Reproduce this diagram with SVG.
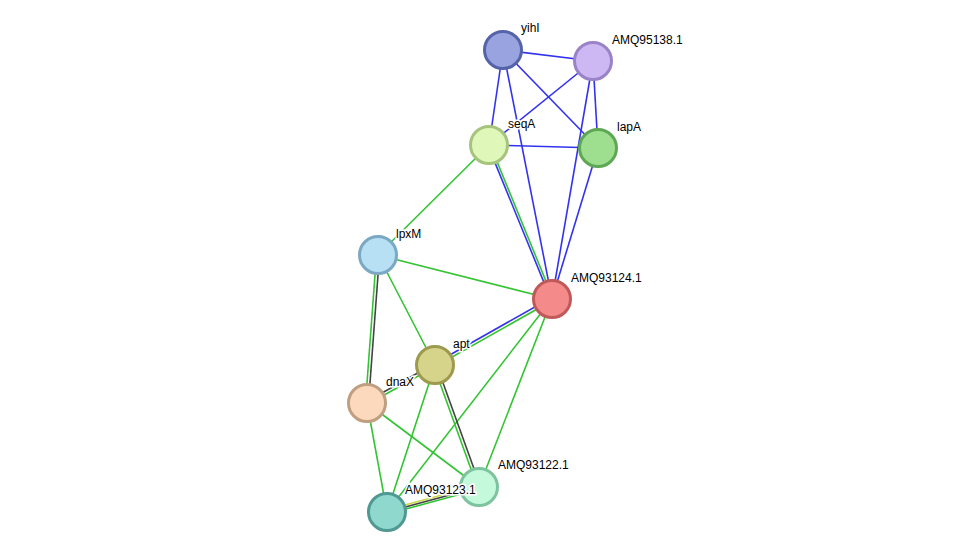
<svg xmlns="http://www.w3.org/2000/svg" width="976" height="557" viewBox="0 0 976 557">
<style>
.b{stroke:#3333ee;stroke-width:1.6;fill:none}
.g{stroke:#33c433;stroke-width:1.6;fill:none}
.k{stroke:#444;stroke-width:1.6;fill:none}
.y{stroke:#c8d84a;stroke-width:1.6;fill:none}
.n{stroke-width:3}
text{font-family:"Liberation Sans",Arial,sans-serif;font-size:12px;fill:#000;paint-order:stroke;stroke:#fff;stroke-width:3px}
</style>
<rect width="976" height="557" fill="#fff"/>
<g id="connectors">
<line class="b" x1="503" y1="50" x2="593" y2="61"/>
<line class="b" x1="503" y1="50" x2="598" y2="148"/>
<line class="b" x1="503" y1="50" x2="489" y2="145"/>
<line class="b" x1="503" y1="50" x2="552" y2="299"/>
<line class="b" x1="593" y1="61" x2="489" y2="145"/>
<line class="b" x1="593" y1="61" x2="598" y2="148"/>
<line class="b" x1="593" y1="61" x2="552" y2="299"/>
<line class="b" x1="489" y1="145" x2="598" y2="148"/>
<line class="b" x1="598" y1="148" x2="552" y2="299"/>
<line class="b" x1="488" y1="145.6" x2="551" y2="299.6"/>
<line class="g" x1="490" y1="144.4" x2="553" y2="298.4"/>
<line class="g" x1="489" y1="145" x2="378" y2="255"/>
<line class="g" x1="378" y1="255" x2="552" y2="299"/>
<line class="g" x1="378" y1="255" x2="435" y2="365"/>
<line class="g" x1="376.5" y1="255" x2="365.5" y2="403"/>
<line class="k" x1="379.5" y1="255" x2="368.5" y2="403"/>
<line class="b" x1="434.3" y1="363.7" x2="551.3" y2="297.7"/>
<line class="g" x1="435.7" y1="366.3" x2="552.7" y2="300.3"/>
<line class="k" x1="366.3" y1="401.7" x2="434.3" y2="363.7"/>
<line class="g" x1="367.7" y1="404.3" x2="435.7" y2="366.3"/>
<line class="g" x1="552" y1="299" x2="479" y2="487"/>
<line class="g" x1="552" y1="299" x2="387" y2="512"/>
<line class="g" x1="433.6" y1="365.5" x2="477.6" y2="487.5"/>
<line class="k" x1="436.4" y1="364.5" x2="480.4" y2="486.5"/>
<line class="g" x1="435" y1="365" x2="387" y2="512"/>
<line class="g" x1="367" y1="403" x2="479" y2="487"/>
<line class="g" x1="367" y1="403" x2="387" y2="512"/>
<line class="y" x1="386.5" y1="510" x2="478.5" y2="485"/>
<line class="k" x1="387" y1="512" x2="479" y2="487"/>
<line class="g" x1="387.5" y1="514" x2="479.5" y2="489"/>
</g>
<g id="yihI"><circle class="n" cx="503" cy="50" r="18.5" fill="#98a3e0" stroke="#5563a8"/><text x="521" y="32">yihI</text></g>
<g id="AMQ95138.1"><circle class="n" cx="593" cy="61" r="18.5" fill="#cdb8f4" stroke="#9a83c6"/><text x="612" y="44">AMQ95138.1</text></g>
<g id="lapA"><circle class="n" cx="598" cy="148" r="18.5" fill="#9ddf8f" stroke="#5ea754"/><text x="617" y="131">lapA</text></g>
<g id="seqA"><circle class="n" cx="489" cy="145" r="18.5" fill="#dff7b8" stroke="#a6c47e"/><text x="508" y="128">seqA</text></g>
<g id="lpxM"><circle class="n" cx="378" cy="255" r="18.5" fill="#b7e0f4" stroke="#7ba8c2"/><text x="396" y="238">lpxM</text></g>
<g id="AMQ93124.1"><circle class="n" cx="552" cy="299" r="18.5" fill="#f48a8a" stroke="#c05a5a"/><text x="571" y="282">AMQ93124.1</text></g>
<g id="apt"><circle class="n" cx="435" cy="365" r="18.5" fill="#d6d48a" stroke="#9d9a4e"/><text x="453" y="348">apt</text></g>
<g id="dnaX"><circle class="n" cx="367" cy="403" r="18.5" fill="#fcd9bd" stroke="#c09e80"/><text x="386" y="386">dnaX</text></g>
<g id="AMQ93122.1"><circle class="n" cx="479" cy="487" r="18.5" fill="#c4f9dc" stroke="#7ec39f"/><text x="498" y="469">AMQ93122.1</text></g>
<g id="AMQ93123.1"><circle class="n" cx="387" cy="512" r="18.5" fill="#8fd8ce" stroke="#4e9a92"/><text x="405" y="494">AMQ93123.1</text></g>
</svg>
